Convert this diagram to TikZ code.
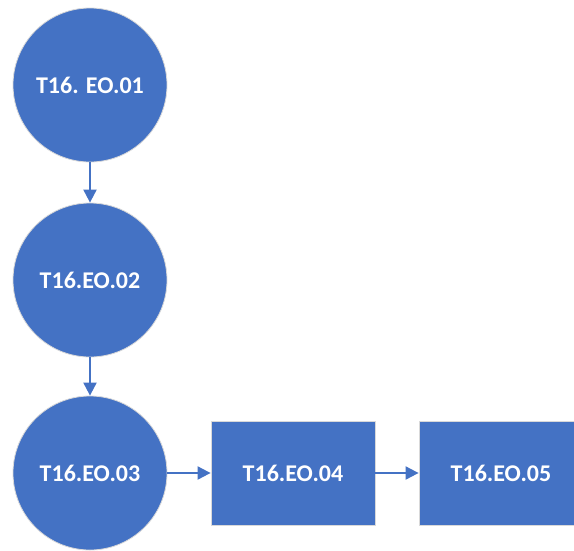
\documentclass[tikz,border=0pt]{standalone}
\usepackage{fontspec}
\setmainfont{Carlito}
\usetikzlibrary{positioning, arrows.meta}
\definecolor{eoblue}{HTML}{4472C4}
\begin{document}
\begin{tikzpicture}[
    x=1pt, y=-1pt,
    eocircle/.style={circle, fill=eoblue, draw=black!15, line width=0.8pt, minimum size=154pt, inner sep=0pt, text=white, font=\fontsize{24}{28}\selectfont\bfseries},
    eobox/.style={rectangle, fill=eoblue, draw=black!15, line width=0.8pt, minimum width=164pt, minimum height=104pt, inner sep=0pt, text=white, font=\fontsize{24}{28}\selectfont\bfseries},
    flow/.style={draw=eoblue, line width=2pt, -{Triangle[length=13pt, width=13pt]}}
]
    \useasboundingbox (0,0) rectangle (574,550);

    % Circulos
    \node[eocircle] (e1) at (90,85) {T16. EO.01};
    \node[eocircle] (e2) at (90,280) {T16.EO.02};
    \node[eocircle] (e3) at (90,473) {T16.EO.03};

    % Caixas
    \node[eobox] (e4) at (293,473) {T16.EO.04};
    \node[eobox] (e5) at (501,473) {T16.EO.05};

    % Setas
    \draw[flow] (e1) -- (e2);
    \draw[flow] (e2) -- (e3);
    \draw[flow] (e3) -- (e4);
    \draw[flow] (e4) -- (e5);

\end{tikzpicture}
\end{document}
